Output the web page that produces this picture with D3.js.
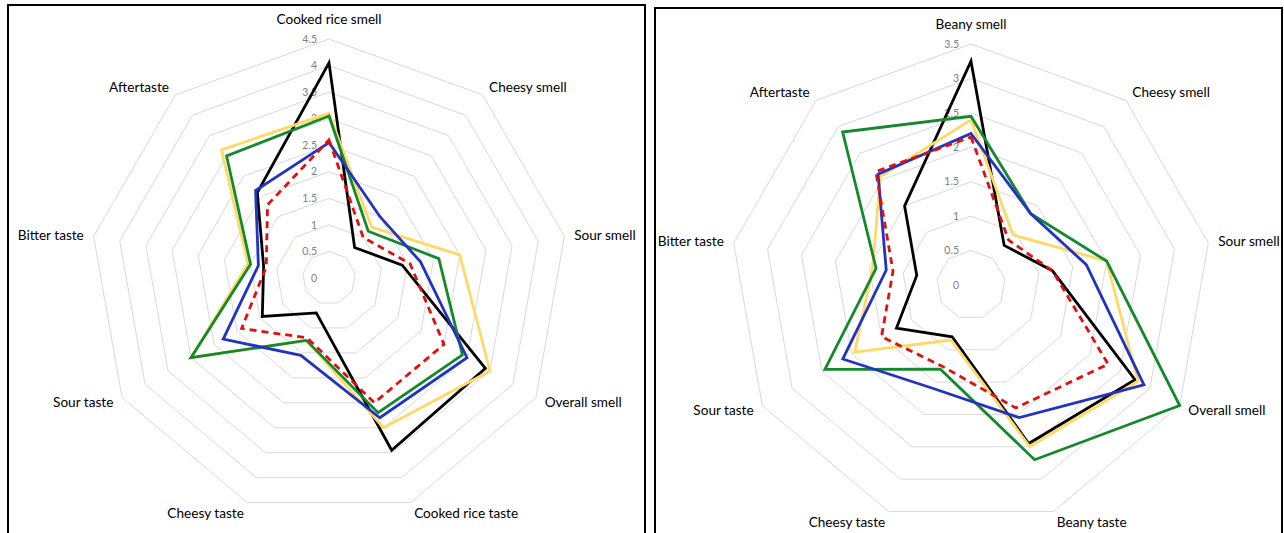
<!DOCTYPE html>
<html>
<head>
<meta charset="utf-8">
<script src="https://cdn.jsdelivr.net/npm/d3@7/dist/d3.min.js"></script>
<style>
  html, body { margin: 0; padding: 0; background: #fff; }
  svg { display: block; }
  text { font-family: Lato, "Noto Sans", sans-serif; }
</style>
</head>
<body>
<svg id="chart" width="1284" height="533"></svg>
<script>
// Sensory attributes, clockwise from the top
const leftAxes = ["Cooked rice smell", "Cheesy smell", "Sour smell", "Overall smell",
  "Cooked rice taste", "Cheesy taste", "Sour taste", "Bitter taste", "Aftertaste"];
const rightAxes = ["Beany smell", "Cheesy smell", "Sour smell", "Overall smell",
  "Beany taste", "Cheesy taste", "Sour taste", "Bitter taste", "Aftertaste"];

const leftTicks = [0, 0.5, 1, 1.5, 2, 2.5, 3, 3.5, 4, 4.5];
const rightTicks = [0, 0.5, 1, 1.5, 2, 2.5, 3, 3.5];

// Left panel scores
const leftBlack  = [4.05, 0.75, 1.4, 3.4, 3.45, 0.7, 1.45, 1.25, 2.1];
const leftYellow = [3.1, 1.25, 2.5, 3.5, 3.0, 1.25, 3.0, 1.55, 3.15];
const leftGreen  = [3.05, 1.15, 2.1, 2.9, 2.7, 1.25, 3.0, 1.5, 3.0];
const leftBlue   = [2.55, 1.5, 1.75, 3.0, 2.8, 1.55, 2.3, 1.35, 2.15];
const leftRed    = [2.6, 1.0, 1.55, 2.5, 2.5, 1.2, 1.9, 1.2, 1.8];

// Right panel scores
const rightBlack  = [3.25, 0.75, 1.2, 2.75, 2.45, 0.8, 1.25, 0.8, 1.5];
const rightYellow = [2.4, 0.95, 2.0, 2.8, 2.5, 0.85, 1.95, 1.45, 2.05];
const rightGreen  = [2.45, 1.35, 2.0, 3.5, 2.7, 1.3, 2.45, 1.4, 2.9];
const rightBlue   = [2.2, 1.35, 1.7, 2.9, 2.05, 1.6, 2.15, 1.25, 2.1];
const rightRed    = [2.15, 0.85, 1.2, 2.3, 1.9, 1.25, 1.5, 1.15, 2.15];

const styles = {
  black:  { stroke: "#000000", dash: null },
  yellow: { stroke: "#FFD966", dash: null },
  green:  { stroke: "#14892C", dash: null },
  blue:   { stroke: "#2233C4", dash: null },
  red:    { stroke: "#E01010", dash: "7,5" }
};

const svg = d3.select("#chart");

// panel frames
svg.append("rect").attr("x", 8).attr("y", 5).attr("width", 637).attr("height", 540)
  .attr("fill", "none").attr("stroke", "#000").attr("stroke-width", 2);
svg.append("rect").attr("x", 655).attr("y", 8).attr("width", 627).attr("height", 540)
  .attr("fill", "none").attr("stroke", "#000").attr("stroke-width", 2);

function drawRadar(cx, cy, outerR, axes, ticks, series) {
  const g = svg.append("g").attr("transform", `translate(${cx},${cy})`);
  const n = axes.length;
  const maxV = ticks[ticks.length - 1];
  const r = d3.scaleLinear().domain([0, maxV]).range([0, outerR]);
  const angle = i => i * 2 * Math.PI / n;

  const ring = d3.lineRadial()
    .angle((d, i) => angle(i))
    .radius(d => r(d))
    .curve(d3.curveLinearClosed);

  // grid rings
  g.selectAll("path.ring").data(ticks.filter(t => t > 0)).join("path")
    .attr("class", "ring")
    .attr("d", t => ring(d3.range(n).map(() => t)))
    .attr("fill", "none")
    .attr("stroke", "#d9d9d9")
    .attr("stroke-width", 1);

  // value labels along the top spoke
  g.selectAll("text.tick").data(ticks).join("text")
    .attr("class", "tick")
    .attr("x", -12)
    .attr("y", t => -r(t))
    .attr("dy", "0.35em")
    .attr("text-anchor", "end")
    .attr("font-size", 10.5)
    .attr("fill", "#808080")
    .text(t => t);

  // series outlines
  series.forEach(s => {
    const st = styles[s.key];
    g.append("path")
      .attr("d", ring(s.values))
      .attr("fill", "none")
      .attr("stroke", st.stroke)
      .attr("stroke-width", 2.8)
      .attr("stroke-linejoin", "miter")
      .attr("stroke-dasharray", st.dash);
  });

  // attribute labels
  axes.forEach((name, i) => {
    const a = angle(i);
    const sx = Math.sin(a), sy = -Math.cos(a);
    const rr = outerR + 10;
    let x = rr * sx, y = rr * sy;
    let anchor = "middle";
    if (i === 0) { y = -(outerR + 20); }
    else {
      anchor = sx > 0 ? "start" : "end";
      if (Math.cos(a) < -0.9) y += 1;
    }
    g.append("text")
      .attr("x", x).attr("y", y)
      .attr("dy", "0.35em")
      .attr("text-anchor", anchor)
      .attr("font-size", 13.6)
      .attr("fill", "#000")
      .text(name);
  });
}

drawRadar(329, 278, 239, leftAxes, leftTicks, [
  { key: "black", values: leftBlack },
  { key: "yellow", values: leftYellow },
  { key: "green", values: leftGreen },
  { key: "blue", values: leftBlue },
  { key: "red", values: leftRed }
]);

drawRadar(971, 285, 241, rightAxes, rightTicks, [
  { key: "black", values: rightBlack },
  { key: "yellow", values: rightYellow },
  { key: "green", values: rightGreen },
  { key: "blue", values: rightBlue },
  { key: "red", values: rightRed }
]);
</script>
</body>
</html>
